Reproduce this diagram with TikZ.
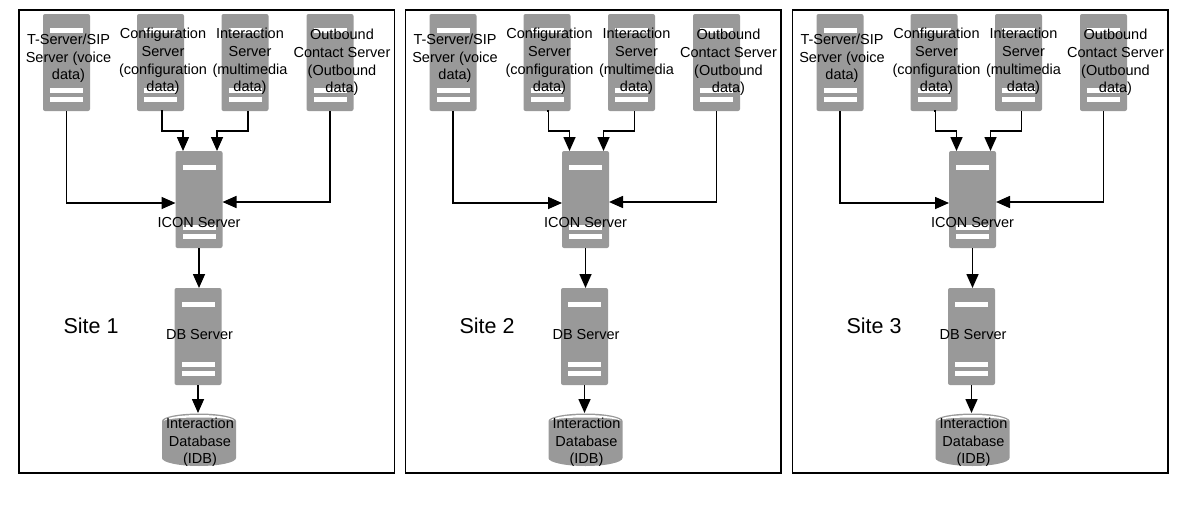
\documentclass[tikz,border=0pt]{standalone}
\usepackage{fontspec}
\setmainfont{Liberation Sans}
\usetikzlibrary{arrows.meta}
\definecolor{srv}{RGB}{153,153,153}
\tikzset{
  frame/.style={draw=black,line width=1.5pt,fill=white,minimum width=375.5pt,minimum height=463pt,inner sep=0pt,outer sep=0pt},
  server/.style={fill=srv,rounded corners=2pt,minimum width=47pt,minimum height=97pt,inner sep=0pt,outer sep=0pt,
    path picture={
      \foreach \b in {14,74,83}
        \fill[white,sharp corners] ([shift={(7,\b)}]path picture bounding box.north west) rectangle ([shift={(40,\b+4.8)}]path picture bounding box.north west);
    }},
  dbbox/.style={minimum width=74pt,minimum height=53pt,inner sep=0pt,outer sep=0pt},
  lbl/.style={align=center,font=\fontsize{14.5}{17.6}\selectfont,text=black,inner sep=0pt},
  sitelbl/.style={font=\fontsize{21.5}{25}\selectfont,text=black,inner sep=0pt},
  conn/.style={draw=black,line width=1.6pt,-{Stealth[length=14pt,width=12pt,inset=0pt]}},
}
\begin{document}
\begin{tikzpicture}[x=1pt,y=-1pt]
\useasboundingbox (0,0) rectangle (1200,506);
\foreach \s/\dx/\sx in {1/0/91,2/386.5/487,3/773.5/874}{
\begin{scope}[shift={(\dx,0)}]
  \node[frame] (f\s) at (206.7,241.5) {};
  \node[server] (t\s) at (66.5,62.5) {};
  \node[server] (c\s) at (160.5,62.5) {};
  \node[server] (n\s) at (245,62.5) {};
  \node[server] (o\s) at (330,62.5) {};
  \node[server] (k\s) at (199,199.5) {};
  \node[server] (b\s) at (198,336.5) {};
  \node[dbbox] (y\s) at (199,439.5) {};
  \fill[srv] (y\s.north west)++(0,8) arc[x radius=37,y radius=7.5,start angle=180,end angle=360]
     -- ++(0,37) arc[x radius=37,y radius=8,start angle=0,end angle=180] -- cycle;
  \fill[white] (y\s.north west)++(2,8) arc[x radius=35,y radius=6,start angle=180,end angle=360]
     arc[x radius=35,y radius=3.5,start angle=360,end angle=180] -- cycle;
  \draw[conn] (t\s.south) -- ++(0,92) -- (k\s.west |- 0,203);
  \draw[conn] (c\s.south) -- ++(1.5,0) -- ++(0,20) -| ([xshift=-16]k\s.north);
  \draw[conn] (n\s.south) ++(3,0) -- ++(0,20) -| ([xshift=18]k\s.north);
  \draw[conn] (o\s.south) -- ++(0,91) -- (k\s.east |- 0,202);
  \draw[conn] (k\s.south) -- (b\s.north -| k\s.south);
  \draw[conn] (b\s.south) -- (y\s.north -| b\s.south);
  \node[lbl] (lt\s) at (68.5,58.5) {T-Server/SIP\\Server (voice\\data)};
  \node[lbl] (lc\s) at (163,61.5) {Configuration\\Server\\(configuration\\data)};
  \node[lbl] (ln\s) at (250,61.5) {Interaction\\Server\\(multimedia\\data)};
  \node[lbl] (lo\s) at (342,62.5) {Outbound\\Contact Server\\(Outbound\\data)};
  \node[lbl] (lk\s) at (199,223) {ICON Server};
  \node[lbl] (lb\s) at (199.5,335) {DB Server};
  \node[lbl] (ly\s) at (200,442.5) {Interaction\\Database\\(IDB)};
\end{scope}
\node[sitelbl] (st\s) at (\sx,326) {Site \s};
}
\end{tikzpicture}
\end{document}
